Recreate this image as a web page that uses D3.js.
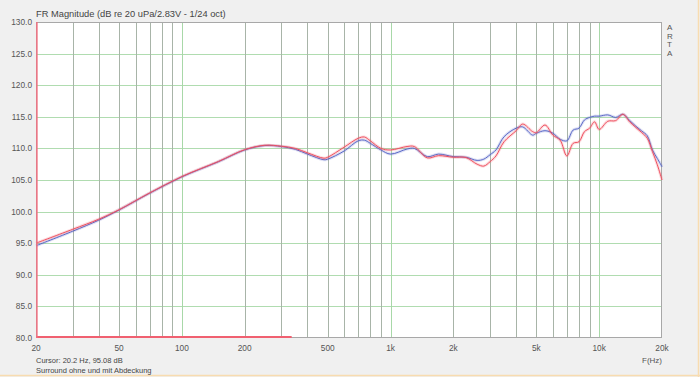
<!DOCTYPE html>
<html>
<head>
<meta charset="utf-8">
<script src="https://cdn.jsdelivr.net/npm/d3@7"></script>
<style>
	body { margin: 0; background: #f0f0f0; }
	svg { display: block; font-family: "Liberation Sans", Arial, sans-serif; }
</style>
</head>
<body>
<svg id="chart" width="700" height="377"></svg>
<script>

// frequencies (Hz) and levels (dB)
const freqs = [20, 30, 40, 50, 70, 100, 150, 200, 250, 300, 350, 400, 480, 500, 600, 700, 750, 800, 900, 1000,
	1200, 1300, 1500, 1700, 2000, 2300, 2600, 2800, 3000, 3200, 3500, 4000, 4300, 4800, 5000, 5500, 6000,
	6500, 7000, 7500, 8000, 8500, 9000, 9500, 10000, 11000, 12000, 13000, 14000, 15000, 16000, 17000, 18000, 19000, 20000];

const blueDb = [94.6, 96.9, 98.65, 100.25, 102.9, 105.5, 107.9, 109.75, 110.45, 110.3, 109.85, 109.1, 108.2, 108.3, 109.6, 111.2, 111.3, 110.8, 109.75, 109.1,
	109.9, 110.0, 108.7, 109.1, 108.7, 108.6, 108.1, 108.3, 109.0, 109.75, 111.85, 113.2, 113.4, 112.1, 112.4, 112.8, 112.4,
	111.45, 111.2, 112.9, 113.2, 114.5, 114.9, 115.1, 115.1, 115.3, 114.9, 115.4, 114.4, 113.5, 112.75, 112.0, 109.75, 108.4, 107.1];

const redDb = [95.0, 97.2, 98.8, 100.3, 102.95, 105.55, 107.95, 109.8, 110.5, 110.35, 110.0, 109.3, 108.45, 108.6, 110.2, 111.6, 111.8, 111.2, 110.0, 109.75,
	110.3, 110.3, 108.5, 108.85, 108.6, 108.55, 107.5, 107.2, 107.9, 108.8, 111.05, 112.8, 113.85, 112.65, 112.5, 113.7, 112.1,
	111.3, 108.8, 110.8, 111.05, 112.65, 113.2, 114.2, 113.0, 114.3, 114.4, 115.4, 114.2, 113.3, 112.5, 111.6, 109.5, 107.4, 105.0];

// red trace lying on the floor of the plot
const floorFreqs = [20, 336];
const floorDb = [80, 80];

const cursorFreq = 20.2;

const yTicks = [80, 85, 90, 95, 100, 105, 110, 115, 120, 125, 130];
const xGrid = [30, 40, 50, 60, 70, 80, 90, 100, 200, 300, 400, 500, 600, 700, 800, 900, 1000,
	2000, 3000, 4000, 5000, 6000, 7000, 8000, 9000, 10000];
const xLabels = [20, 50, 100, 200, 500, 1000, 2000, 5000, 10000, 20000];
const xLabelText = ["20", "50", "100", "200", "500", "1k", "2k", "5k", "10k", "20k"];
const decades = [100, 1000, 10000];

const svg = d3.select("#chart");
const plotLeft = 36, plotRight = 662, plotTop = 22, plotBottom = 338;

const x = d3.scaleLog().domain([20, 20000]).range([plotLeft, plotRight]);
const y = d3.scaleLinear().domain([80, 130]).range([plotBottom, plotTop]);

// outer frame
svg.append("rect").attr("x", 0).attr("y", 0).attr("width", 700).attr("height", 377).attr("fill", "#f0f0f0");
svg.append("line").attr("x1", 698.5).attr("x2", 698.5).attr("y1", 0).attr("y2", 377)
	.attr("stroke", "#f8dcb0").attr("stroke-width", 1.5);
svg.append("line").attr("x1", 0).attr("x2", 700).attr("y1", 375.5).attr("y2", 375.5)
	.attr("stroke", "#f8dcb0").attr("stroke-width", 1.5);

svg.append("rect").attr("x", plotLeft).attr("y", plotTop)
	.attr("width", plotRight - plotLeft).attr("height", plotBottom - plotTop)
	.attr("fill", "#ffffff");

// grid
const gridG = svg.append("g");
gridG.selectAll(".hgrid")
	.data(yTicks.slice(1, -1))
	.enter()
	.append("line")
	.attr("x1", plotLeft).attr("x2", plotRight)
	.attr("y1", d => Math.round(y(d)) + 0.5).attr("y2", d => Math.round(y(d)) + 0.5)
	.attr("stroke", "#b0dcb0");

gridG.selectAll(".vgrid")
	.data(xGrid)
	.enter()
	.append("line")
	.attr("x1", d => Math.round(x(d)) + 0.5).attr("x2", d => Math.round(x(d)) + 0.5)
	.attr("y1", plotTop).attr("y2", plotBottom)
	.attr("stroke", d => decades.includes(d) ? "#a8d8a8" : "#a8b4a8");

// plot frame
svg.append("rect").attr("x", plotLeft + 0.5).attr("y", plotTop + 0.5)
	.attr("width", plotRight - plotLeft - 1).attr("height", plotBottom - plotTop - 1)
	.attr("fill", "none").attr("stroke", "#a8a8a8");

// axis labels
svg.selectAll(".ylab")
	.data(yTicks)
	.enter()
	.append("text")
	.attr("x", 32).attr("y", d => y(d) + 3)
	.attr("text-anchor", "end")
	.attr("font-size", 8.3)
	.attr("fill", "#555")
	.text(d => d.toFixed(1));

svg.selectAll(".xlab")
	.data(xLabels)
	.enter()
	.append("text")
	.attr("x", d => x(d)).attr("y", 351)
	.attr("text-anchor", "middle")
	.attr("font-size", 8.3)
	.attr("fill", "#555")
	.text((d, i) => xLabelText[i]);

svg.append("text").attr("x", 652).attr("y", 363).attr("text-anchor", "middle")
	.attr("font-size", 8).attr("fill", "#555").text("F(Hz)");

svg.append("text").attr("x", 36).attr("y", 17).attr("font-size", 9.3).attr("fill", "#444")
	.text("FR Magnitude (dB re 20 uPa/2.83V - 1/24 oct)");

svg.selectAll(".arta")
	.data(["A", "R", "T", "A"])
	.enter()
	.append("text")
	.attr("x", 667).attr("y", (d, i) => 30 + i * 8.5)
	.attr("font-size", 8).attr("fill", "#555")
	.text(d => d);

svg.append("text").attr("x", 36).attr("y", 363).attr("font-size", 7.5).attr("fill", "#444")
	.text("Cursor: 20.2 Hz, 95.08 dB");
svg.append("text").attr("x", 36).attr("y", 373).attr("font-size", 7.5).attr("fill", "#444")
	.text("Surround ohne und mit Abdeckung");

// curves
const line = d3.line()
	.x(d => x(d[0]))
	.y(d => y(d[1]))
	.curve(d3.curveCatmullRom.alpha(0.5));

const curveG = svg.append("g");

const series = [
	{ vals: blueDb, color: "#5a68c8" },
	{ vals: redDb, color: "#f05060" }
];

series.forEach(s => {
	const pts = freqs.map((f, i) => [f, s.vals[i]]);
	curveG.append("path").attr("d", line(pts))
		.attr("fill", "none").attr("stroke", s.color).attr("stroke-opacity", 0.2).attr("stroke-width", 3);
	curveG.append("path").attr("d", line(pts))
		.attr("fill", "none").attr("stroke", s.color).attr("stroke-width", 1);
});

curveG.append("path")
	.attr("d", d3.line().x(d => x(d[0])).y(d => y(d[1]) - 1)(floorFreqs.map((f, i) => [f, floorDb[i]])))
	.attr("fill", "none").attr("stroke", "#f06070").attr("stroke-width", 2);

// cursor
svg.append("line")
	.attr("x1", x(cursorFreq)).attr("x2", x(cursorFreq))
	.attr("y1", plotTop).attr("y2", plotBottom)
	.attr("stroke", "#f07080").attr("stroke-width", 1.5);

</script>
</body>
</html>
